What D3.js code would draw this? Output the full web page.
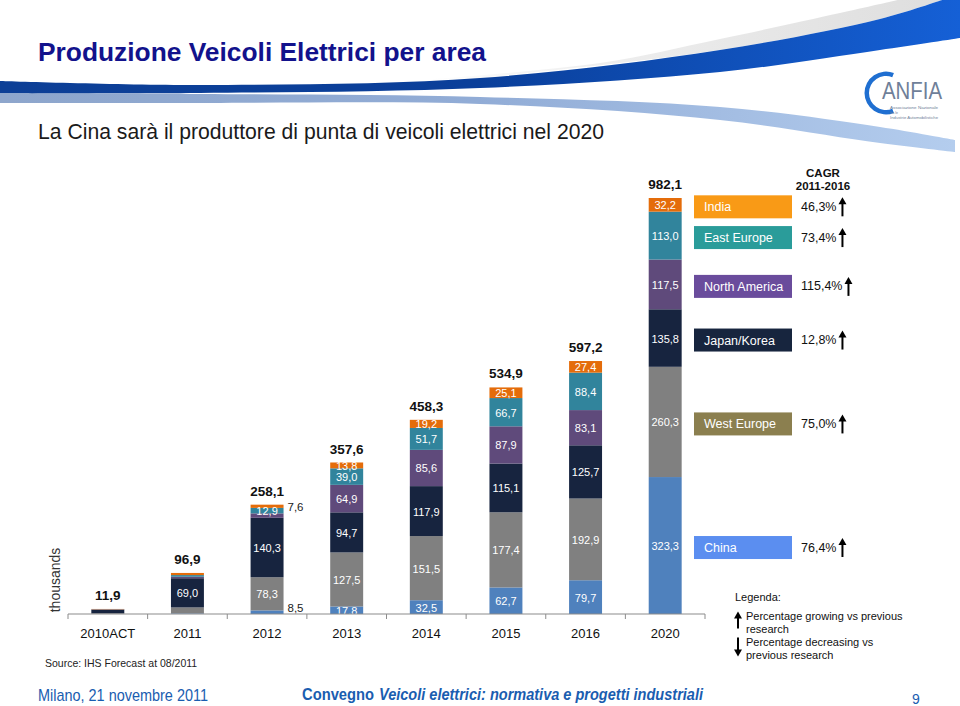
<!DOCTYPE html>
<html><head><meta charset="utf-8">
<script src="https://cdn.jsdelivr.net/npm/d3@7"></script>
<style>body{margin:0;background:#fff} svg{display:block;font-family:"Liberation Sans",Arial,sans-serif}</style>
</head><body><svg id="c" width="960" height="706"></svg>
<script>
// ---------- DATA ----------
const years = ["2010ACT","2011","2012","2013","2014","2015","2016","2020"];
const seriesNames = ["China","West Europe","Japan/Korea","North America","East Europe","India"];
const china        = [0.2, 1.5,  8.5,  17.8,  32.5,  62.7,  79.7, 323.3];
const westEurope   = [1.5, 14.0, 78.3, 127.5, 151.5, 177.4, 192.9, 260.3];
const japanKorea   = [8.5, 69.0, 140.3, 94.7, 117.9, 115.1, 125.7, 135.8];
const northAmerica = [0.7, 3.5,  10.5,  64.9,  85.6,  87.9,  83.1, 117.5];
const eastEurope   = [0.3, 3.9,  12.9,  39.0,  51.7,  66.7,  88.4, 113.0];
const india        = [0.7, 5.0,  7.6,   13.8,  19.2,  25.1,  27.4,  32.2];
const totals       = [11.9, 96.9, 258.1, 357.6, 458.3, 534.9, 597.2, 982.1];
const cagrLabels   = ["76,4%","75,0%","12,8%","115,4%","73,4%","46,3%"];
const cagrUp       = [true, true, true, true, true, true];

// ---------- STYLE ----------
const segColors = ["#4f81bd","#808080","#17243f","#5f4a7b","#31849c","#e46c0a"];
const boxColors = ["#5b8ef0","#8b7f4f","#17253e","#6a4c9c","#2a9c9a","#f99a16"];

const svg = d3.select("#c");
const defs = svg.append("defs");
const fmt = v => d3.format(".1f")(v).replace(".", ",");

// ---------- HEADER DECORATION ----------
function grad(id, stops) {
  const g = defs.append("linearGradient").attr("id", id).attr("x1","0%").attr("x2","100%").attr("y1","0%").attr("y2","0%");
  stops.forEach(s => g.append("stop").attr("offset", s[0]).attr("stop-color", s[1]));
}
grad("gDark", [["0%","#0d3f96"],["50%","#0a3f9a"],["100%","#1560d6"]]);
grad("gGray", [["0%","#ffffff"],["35%","#eeeeee"],["100%","#dedede"]]);
grad("gLight", [["0%","#8ea6cc"],["50%","#91acd6"],["100%","#b4cdee"]]);

const ln = d3.line().curve(d3.curveCatmullRom.alpha(0.5));
function band(top, bottom) { return ln(top) + "L" + ln(bottom.slice().reverse()).slice(1) + "Z"; }

const grayTop = [[420,80],[600,63],[720,39],[840,13],[898,0]];
const darkTop = [[0,81],[200,85],[480,78],[720,50],[880,19],[942,0]];
const darkBot = [[0,93],[200,93],[480,88],[720,72],[880,50],[960,38]];
const lightTop = [[0,93],[200,94],[480,97],[720,107],[880,127],[955,140]];
const lightBot = [[0,103],[200,103],[480,104],[720,120],[880,143],[955,152]];

svg.append("path").attr("d", ln(grayTop) + "L942,0" + "L" + ln(darkTop.slice(2).reverse()).slice(1) + "Z").attr("fill","url(#gGray)");
svg.append("path").attr("d", band(lightTop, lightBot)).attr("fill","url(#gLight)");
svg.append("path").attr("d", ln(darkTop) + "L960,0L" + ln(darkBot.slice().reverse()).slice(1) + "Z").attr("fill","url(#gDark)");

// Logo
const arcGen = d3.arc();
svg.append("path").attr("transform","translate(886,93)")
  .attr("d", arcGen({innerRadius:17, outerRadius:21.5, startAngle:0.12*Math.PI, endAngle:-1.12*Math.PI}))
  .attr("fill","#1f6fd1");
svg.append("text").attr("x",882).attr("y",99).attr("font-size",23).attr("fill","#6f7f99")
  .attr("textLength",60).attr("lengthAdjust","spacingAndGlyphs").text("ANFIA");
["Associazione Nazionale","fra le","Industrie Automobilistiche"].forEach((t,i)=>{
  svg.append("text").attr("x",890).attr("y",109+i*5).attr("font-size",3.8).attr("fill","#6f7f99")
    .attr("textLength", i===1?8:48).attr("lengthAdjust","spacingAndGlyphs").text(t);
});

// Titles
svg.append("text").attr("x",38).attr("y",61).attr("font-size",26).attr("font-weight","bold")
  .attr("fill","#12128c").attr("textLength",448).attr("lengthAdjust","spacingAndGlyphs")
  .text("Produzione Veicoli Elettrici per area");
svg.append("text").attr("x",38).attr("y",139).attr("font-size",22).attr("fill","#1a1a1a")
  .attr("textLength",566).attr("lengthAdjust","spacingAndGlyphs")
  .text("La Cina sarà il produttore di punta di veicoli elettrici nel 2020");

// ---------- CHART ----------
const x = d3.scaleBand().domain(years).range([68,705]).paddingInner(0.586).paddingOuter(0.293);
const y = d3.scaleLinear().domain([0, d3.max(totals)]).range([614, 198]);

const rows = years.map((yr,i) => ({year: yr, "China": china[i], "West Europe": westEurope[i],
  "Japan/Korea": japanKorea[i], "North America": northAmerica[i], "East Europe": eastEurope[i], "India": india[i]}));
const stacked = d3.stack().keys(seriesNames)(rows);

const g = svg.append("g");
stacked.forEach((s, si) => {
  g.selectAll(null).data(s).enter().append("rect")
    .attr("x", d => x(d.data.year)).attr("width", x.bandwidth())
    .attr("y", d => y(d[1])).attr("height", d => y(d[0]) - y(d[1]))
    .attr("fill", segColors[si]);
});

// segment labels
stacked.forEach((s, si) => {
  s.forEach((d, i) => {
    const v = d[1] - d[0];
    const yr = d.data.year;
    const early = (yr === "2010ACT" || yr === "2011");
    if (early && v < 50) return;
    const cy = (y(d[0]) + y(d[1])) / 2;
    if (v >= 12) {
      g.append("text").attr("x", x(yr) + x.bandwidth()/2).attr("y", cy + 0.5)
        .attr("text-anchor","middle").attr("dominant-baseline","central")
        .attr("font-size",11).attr("fill","#fff").text(fmt(v));
    } else if (v < 10) {
      g.append("text").attr("x", x(yr) + x.bandwidth() + 4).attr("y", si === 0 ? cy - 4 : cy + 1)
        .attr("dominant-baseline","central").attr("font-size",11.5).attr("fill","#222").text(fmt(v));
    }
  });
});

// totals
years.forEach((yr, i) => {
  g.append("text").attr("x", x(yr) + x.bandwidth()/2).attr("y", y(totals[i]) - 9)
    .attr("text-anchor","middle").attr("font-size",13.5).attr("font-weight","bold").attr("fill","#111")
    .text(fmt(totals[i]));
});

// axis
const ax = svg.append("g").attr("transform","translate(0,614)");
ax.append("line").attr("x1",68).attr("x2",705).attr("stroke","#8c8c8c").attr("stroke-width",1.2);
const step = x.step();
d3.range(years.length + 1).forEach(k => {
  const tx = 68 + k * step;
  ax.append("line").attr("x1",tx).attr("x2",tx).attr("y1",0).attr("y2",5).attr("stroke","#8c8c8c");
});
years.forEach(yr => {
  ax.append("text").attr("x", x(yr) + x.bandwidth()/2).attr("y", 24).attr("text-anchor","middle")
    .attr("font-size",13).attr("fill","#111").text(yr);
});

svg.append("text").attr("transform","translate(60,580) rotate(-90)").attr("text-anchor","middle")
  .attr("font-size",14).attr("fill","#333").text("thousands");
svg.append("text").attr("x",45).attr("y",667).attr("font-size",10.5).attr("fill","#222")
  .text("Source: IHS Forecast at 08/2011");

// ---------- RIGHT LEGEND ----------
svg.append("text").attr("x",823).attr("y",177).attr("text-anchor","middle").attr("font-size",11.5)
  .attr("font-weight","bold").attr("fill","#111").text("CAGR");
svg.append("text").attr("x",823).attr("y",190).attr("text-anchor","middle").attr("font-size",11.5)
  .attr("font-weight","bold").attr("fill","#111").text("2011-2016");

function arrow(parent, ax0, cy, up, len) {
  const h = len/2;
  const top = cy - h, bot = cy + h;
  if (up) {
    parent.append("line").attr("x1",ax0).attr("x2",ax0).attr("y1",top+5).attr("y2",bot).attr("stroke","#000").attr("stroke-width",2);
    parent.append("path").attr("d",`M${ax0-4},${top+7}L${ax0},${top}L${ax0+4},${top+7}Z`).attr("fill","#000");
  } else {
    parent.append("line").attr("x1",ax0).attr("x2",ax0).attr("y1",top).attr("y2",bot-5).attr("stroke","#000").attr("stroke-width",2);
    parent.append("path").attr("d",`M${ax0-4},${bot-7}L${ax0},${bot}L${ax0+4},${bot-7}Z`).attr("fill","#000");
  }
}

const last = stacked.map(s => s[s.length-1]);
seriesNames.forEach((name, si) => {
  const d = last[si];
  const cy = (y(d[0]) + y(d[1])) / 2 + 2;
  svg.append("rect").attr("x",694).attr("y",cy-11.5).attr("width",98).attr("height",23).attr("fill",boxColors[si]);
  svg.append("text").attr("x",704).attr("y",cy+0.5).attr("dominant-baseline","central")
    .attr("font-size",12.5).attr("fill","#fff").text(name);
  const t = svg.append("text").attr("x",801).attr("y",cy).attr("dominant-baseline","central")
    .attr("font-size",12.5).attr("fill","#111").text(cagrLabels[si]);
  const w = t.node().getComputedTextLength();
  arrow(svg, 801 + w + 6, cy, cagrUp[si], 19);
});

// Legenda
svg.append("text").attr("x",735).attr("y",601).attr("font-size",11).attr("fill","#111").text("Legenda:");
arrow(svg, 738, 620, true, 17);
arrow(svg, 738, 647, false, 19);
[["Percentage growing vs previous",620],["research",633],["Percentage decreasing vs",646],["previous research",659]]
  .forEach(([t,yy]) => svg.append("text").attr("x",746).attr("y",yy).attr("font-size",11).attr("fill","#111").text(t));

// ---------- FOOTER ----------
svg.append("text").attr("x",38).attr("y",701).attr("font-size",17).attr("fill","#1a5db0")
  .attr("textLength",170).attr("lengthAdjust","spacingAndGlyphs").text("Milano, 21 novembre 2011");
svg.append("text").attr("x",302).attr("y",700).attr("font-size",17).attr("font-weight","bold")
  .attr("fill","#1a5db0").attr("textLength",72).attr("lengthAdjust","spacingAndGlyphs").text("Convegno");
svg.append("text").attr("x",379).attr("y",700).attr("font-size",17).attr("font-weight","bold").attr("font-style","italic")
  .attr("fill","#1a5db0").attr("textLength",324).attr("lengthAdjust","spacingAndGlyphs")
  .text("Veicoli elettrici: normativa e progetti industriali");
svg.append("text").attr("x",912).attr("y",704).attr("font-size",14).attr("fill","#1a5db0").text("9");
</script></body></html>
